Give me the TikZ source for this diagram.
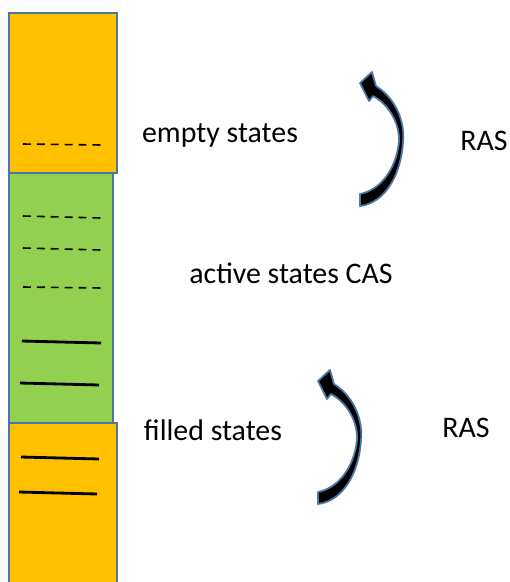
\documentclass[tikz,border=0pt]{standalone}
\usepackage{fontspec}
\setmainfont{Carlito}
\usetikzlibrary{positioning}
\definecolor{bandorange}{HTML}{FFC000}
\definecolor{bandgreen}{HTML}{92D050}
\definecolor{bandedge}{HTML}{4A76A8}

\begin{document}
\begin{tikzpicture}[x=0.02cm,y=-0.02cm,
  band/.style={draw=bandedge,line width=1.2pt},
  emptyline/.style={line width=0.9pt,dash pattern=on 4.5pt off 3.4pt},
  fullline/.style={line width=1.6pt},
  statetext/.style={anchor=base,font=\fontsize{17}{20}\selectfont},
  ras/.style={fill=black,draw=bandedge,line width=1pt,line join=round}]

\useasboundingbox (0,0) rectangle (510,582);

% the three bands
\filldraw [band,fill=bandorange] (9,13) rectangle (117,173);
\filldraw [band,fill=bandorange] (9,423) rectangle (117,590);
\filldraw [band,fill=bandgreen] (9,173) rectangle (113,423);

% levels
\draw [emptyline] (23,144) -- (101,145);
\draw [emptyline] (23,216) -- (101,218);
\draw [emptyline] (23,248) -- (101,250);
\draw [emptyline] (23,287) -- (101,288);
\draw [fullline] (22,341) -- (101,343);
\draw [fullline] (20,383) -- (99,385);
\draw [fullline] (21,457) -- (99,459);
\draw [fullline] (19,492) -- (97,494);

\node [statetext] (empty) at (220,142) {empty states};
\node [statetext] (active) at (291,283) {active states CAS};
\node [statetext] (filled) at (213,440) {filled states};
\node [statetext] (rasup) at (484,150) {RAS};
\node [statetext] (rasdown) at (466,437) {RAS};

% curved arrows
\filldraw [ras] (360,83) -- (372,72) -- (376,86)
  .. controls (398,100) and (405,125) .. (403,142)
  .. controls (401,175) and (385,203) .. (360,206) -- (360,194)
  .. controls (380,190) and (396,170) .. (399,142)
  .. controls (400,125) and (390,105) .. (373,96) -- (369,101) -- cycle;
\begin{scope}[shift={(-42,298)}]
\filldraw [ras] (360,83) -- (372,72) -- (376,86)
  .. controls (398,100) and (405,125) .. (403,142)
  .. controls (401,175) and (385,203) .. (360,206) -- (360,194)
  .. controls (380,190) and (396,170) .. (399,142)
  .. controls (400,125) and (390,105) .. (373,96) -- (369,101) -- cycle;
\end{scope}

\end{tikzpicture}
\end{document}
